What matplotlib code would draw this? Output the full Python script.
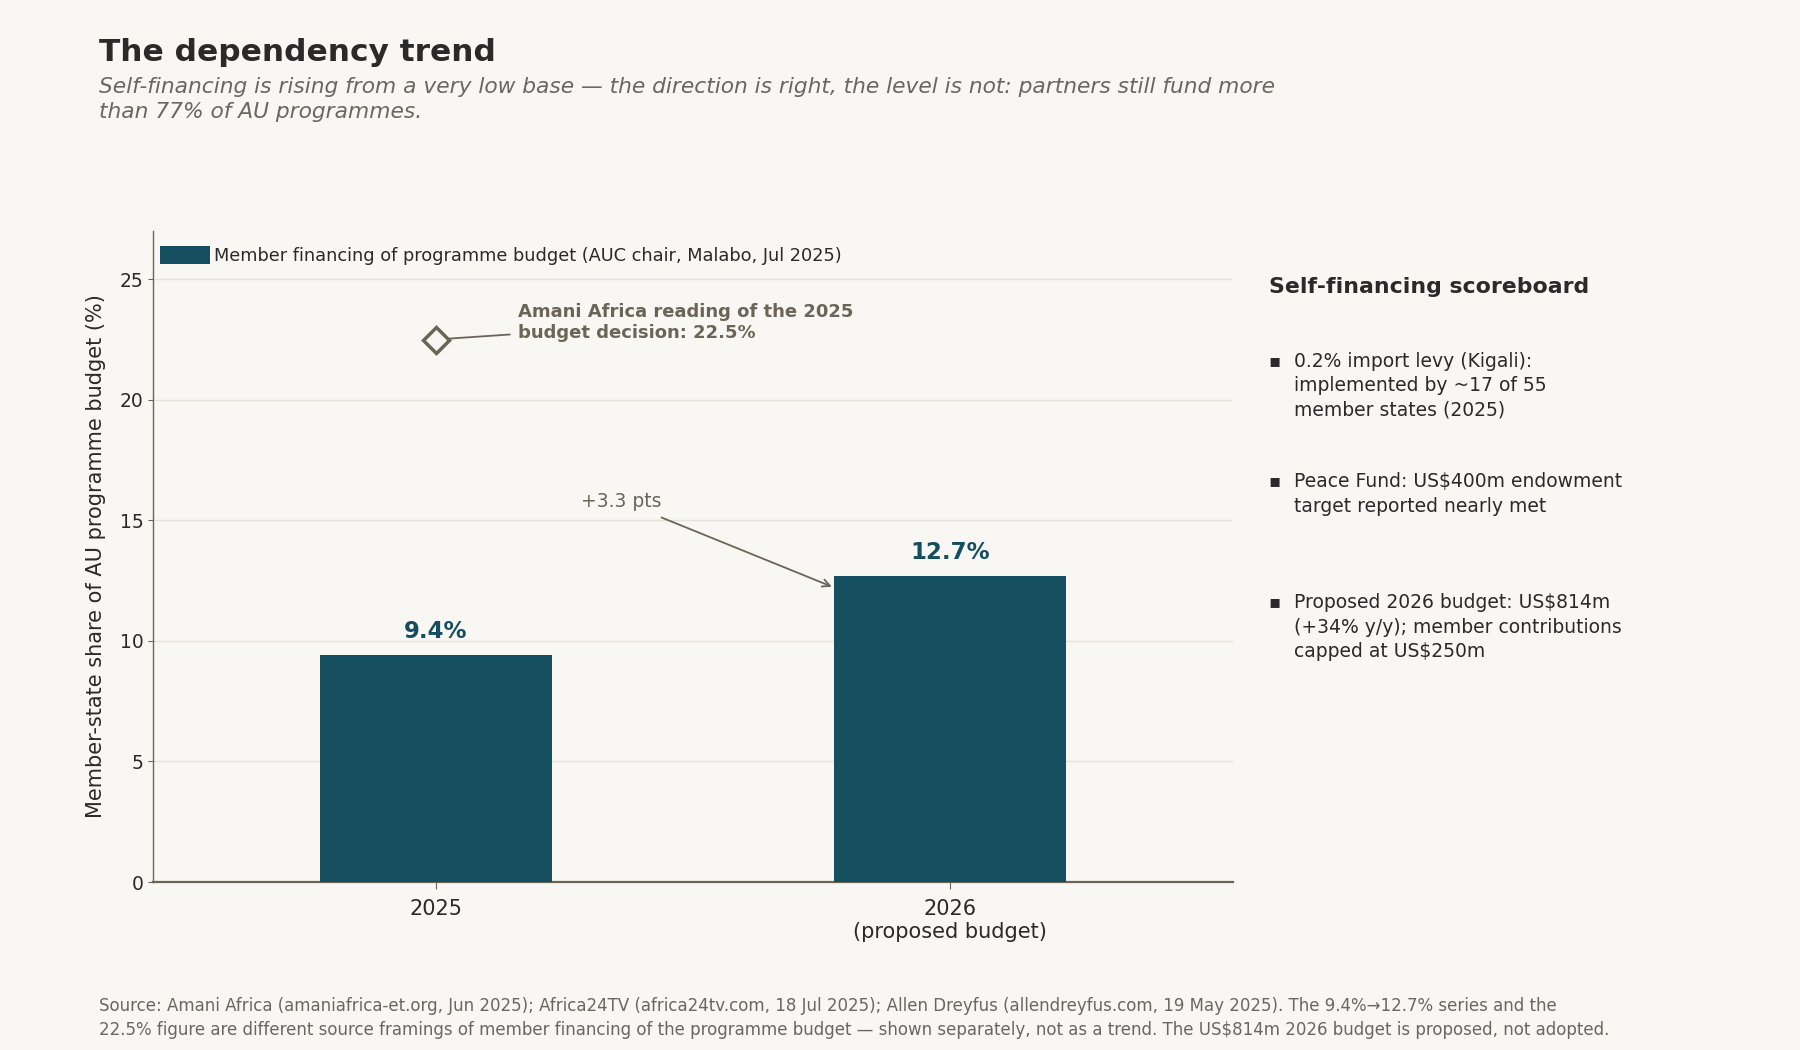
import matplotlib.pyplot as plt

# data
years = ['2025', '2026\n(proposed budget)']
member_share = [9.4, 12.7]
amani_share = 22.5
scoreboard = [
    '0.2% import levy (Kigali):\nimplemented by ~17 of 55\nmember states (2025)',
    'Peace Fund: US$400m endowment\ntarget reported nearly met',
    'Proposed 2026 budget: US$814m\n(+34% y/y); member contributions\ncapped at US$250m',
]

bg = '#f9f7f3'
teal = '#154e5e'
muted = '#6b6558'
dark = '#2a2a2a'

plt.rcParams['font.family'] = ['DejaVu Sans']

fig = plt.figure(figsize=(18, 10.5), dpi=100, facecolor=bg)
ax = fig.add_axes([0.085, 0.16, 0.6, 0.62], facecolor=bg)

x = list(range(len(years)))
ax.bar(x, member_share, width=0.45, color=teal, zorder=3,
       label='Member financing of programme budget (AUC chair, Malabo, Jul 2025)')
for xi, v in zip(x, member_share):
    ax.text(xi, v + 0.5, f'{v}%', ha='center', va='bottom', fontsize=16.5,
            fontweight='bold', color=teal, zorder=4)

ax.plot([0], [amani_share], marker='D', markersize=13, markerfacecolor=bg,
        markeredgecolor=muted, markeredgewidth=2.5, ls='none', zorder=4)
ax.annotate('Amani Africa reading of the 2025\nbudget decision: 22.5%',
            xy=(0, amani_share), xytext=(0.16, 23.2),
            fontsize=13, fontweight='bold', color=muted, va='center',
            arrowprops=dict(arrowstyle='-', color=muted, lw=1.3,
                            shrinkA=4, shrinkB=0))

ax.annotate(f'+{member_share[1] - member_share[0]:.1f} pts',
            xy=(0.77, 12.25), xytext=(0.36, 15.8),
            fontsize=13.5, color=muted, ha='center', va='center',
            arrowprops=dict(arrowstyle='->', color=muted, lw=1.3,
                            shrinkA=8, shrinkB=0))

ax.set_xlim(-0.55, 1.55)
ax.set_ylim(0, 27)
ax.set_yticks([0, 5, 10, 15, 20, 25])
ax.set_xticks(x)
ax.set_xticklabels(years, fontsize=15, color=dark)
ax.tick_params(axis='x', pad=7, length=5)
ax.tick_params(axis='y', labelsize=13.5, colors=dark)
ax.tick_params(axis='both', color=muted)
ax.set_ylabel('Member-state share of AU programme budget (%)', fontsize=15,
              color=dark, labelpad=10)
ax.grid(axis='y', color='#e6e2dc', lw=1, zorder=0)
ax.set_axisbelow(True)
for s in ['top', 'right']:
    ax.spines[s].set_visible(False)
ax.spines['left'].set_color(muted)
ax.spines['left'].set_linewidth(1.0)
ax.spines['bottom'].set_color(muted)
ax.spines['bottom'].set_linewidth(1.6)

leg = ax.legend(loc='upper left', bbox_to_anchor=(0, 0.988), frameon=False,
                fontsize=12.8, handlelength=2.8, handleheight=1.2,
                handletextpad=0.25, borderaxespad=0, borderpad=0.4,
                labelcolor=dark)

fig.text(0.055, 0.95, 'The dependency trend', fontsize=22.5,
         fontweight='bold', color=dark, va='center')
fig.text(0.055, 0.927,
         'Self-financing is rising from a very low base \u2014 the direction '
         'is right, the level is not: partners still fund more\nthan 77% of AU '
         'programmes.', fontsize=15.7, style='italic', color='#6a6660',
         va='top', linespacing=1.35)

fig.text(0.705, 0.727, 'Self-financing scoreboard', fontsize=15.8,
         fontweight='bold', color=dark, va='center')
for i, item in enumerate(scoreboard):
    yy = 0.665 - i * 0.115
    fig.text(0.7045, yy, '\u25aa', fontsize=13, color=dark, va='top')
    fig.text(0.719, yy, item, fontsize=13.5, color=dark, va='top',
             linespacing=1.36)

fig.text(0.055, 0.0305,
         'Source: Amani Africa (amaniafrica-et.org, Jun 2025); Africa24TV '
         '(africa24tv.com, 18 Jul 2025); Allen Dreyfus (allendreyfus.com, 19 '
         'May 2025). The 9.4%\u219212.7% series and the\n22.5% figure are '
         'different source framings of member financing of the programme '
         'budget \u2014 shown separately, not as a trend. The US$814m 2026 '
         'budget is proposed, not adopted.',
         fontsize=12, color='#6a6660', va='center', linespacing=1.4)

fig.savefig('out.png', dpi=100, facecolor=bg)
plt.close('all')
